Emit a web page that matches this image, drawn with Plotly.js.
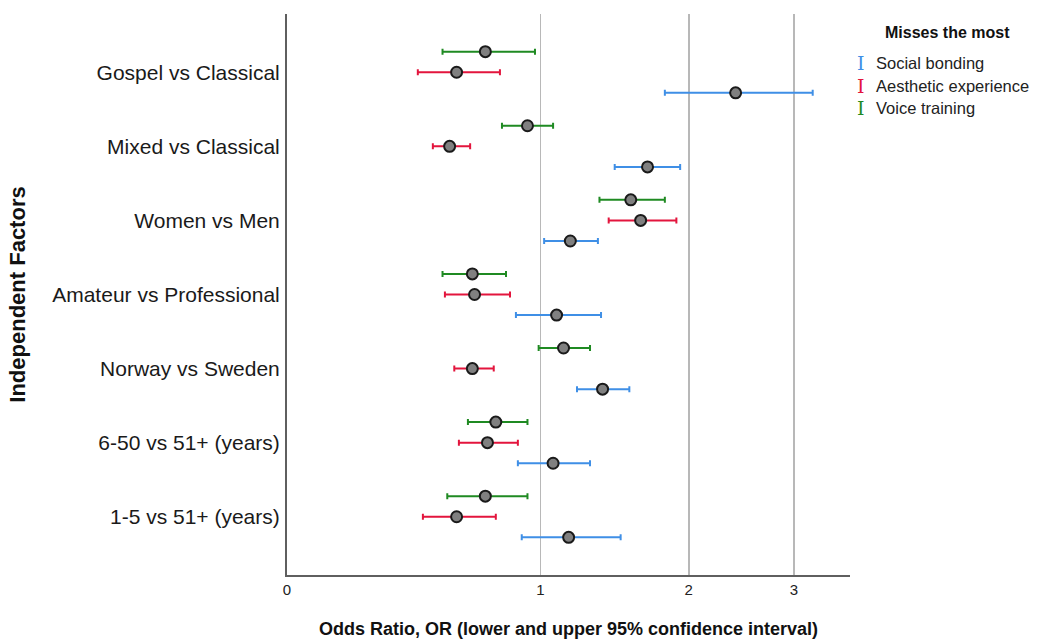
<!DOCTYPE html>
<html>
<head>
<meta charset="utf-8">
<script src="https://cdn.plot.ly/plotly-3.0.1.min.js"></script>
<style>html,body{margin:0;padding:0;background:#fff;}#chart{width:1041px;height:639px;}</style>
</head>
<body>
<div id="chart"></div>
<script>
// Categories listed top to bottom
const categories = ['Gospel vs Classical','Mixed vs Classical','Women vs Men','Amateur vs Professional','Norway vs Sweden','6-50 vs 51+ (years)','1-5 vs 51+ (years)'];

const socialOR  = [2.41, 1.68, 1.17, 1.09, 1.37, 1.07, 1.16];
const socialLo  = [1.81, 1.45, 1.02, 0.87, 1.21, 0.88, 0.90];
const socialHi  = [3.21, 1.93, 1.34, 1.36, 1.55, 1.29, 1.49];

const aestheticOR = [0.59, 0.56, 1.63, 0.67, 0.66, 0.73, 0.59];
const aestheticLo = [0.43, 0.49, 1.41, 0.54, 0.58, 0.60, 0.45];
const aestheticHi = [0.79, 0.65, 1.90, 0.84, 0.76, 0.88, 0.77];

const voiceOR = [0.72, 0.93, 1.56, 0.66, 1.13, 0.77, 0.72];
const voiceLo = [0.53, 0.80, 1.35, 0.53, 0.99, 0.64, 0.55];
const voiceHi = [0.97, 1.07, 1.81, 0.82, 1.29, 0.93, 0.93];

const xTickValues = [0, 1, 2, 3];
const xTickLabels = ['0', '1', '2', '3'];

const seriesNames = ['Social bonding', 'Aesthetic experience', 'Voice training'];
const seriesColors = ['#3f8fe6', '#e3153d', '#1f8a22'];

// layout helpers
const groupStep = 3.6;
const rowOffset = [-1, 0, 1]; // social below, aesthetic centre, voice above
const groupCentre = categories.map((c, i) => (categories.length - 1 - i) * groupStep);

function makeTrace(or, lo, hi, k) {
  return {
    type: 'scatter',
    mode: 'markers',
    name: seriesNames[k],
    x: or.map(v => v + 1),
    y: groupCentre.map(g => g + rowOffset[k]),
    error_x: {
      type: 'data', symmetric: false,
      array: hi.map((h, i) => h - or[i]),
      arrayminus: lo.map((l, i) => or[i] - l),
      color: seriesColors[k], thickness: 2, width: 3
    },
    marker: {color: '#808080', size: 11, line: {color: '#1a1a1a', width: 2}},
    showlegend: false,
    hoverinfo: 'skip'
  };
}

const traces = [
  makeTrace(socialOR, socialLo, socialHi, 0),
  makeTrace(aestheticOR, aestheticLo, aestheticHi, 1),
  makeTrace(voiceOR, voiceLo, voiceHi, 2)
];

const L = 287, R = 850, T = 14, B = 575;
const px = p => (p - L) / (R - L);
const py = p => (B - p) / (B - T);

const annotations = [
  {xref: 'paper', yref: 'paper', x: px(947), y: py(32), text: '<b>Misses the most</b>', showarrow: false,
   xanchor: 'center', yanchor: 'middle', font: {family: 'Liberation Sans, Arial, sans-serif', size: 16, color: '#111'}}
];
const legendY = [63, 86, 108];
seriesNames.forEach((n, k) => {
  annotations.push({xref: 'paper', yref: 'paper', x: px(861), y: py(legendY[k]), text: 'I', showarrow: false,
    xanchor: 'center', yanchor: 'middle', font: {family: 'DejaVu Serif, Liberation Serif, serif', size: 19, color: seriesColors[k]}});
  annotations.push({xref: 'paper', yref: 'paper', x: px(874), y: py(legendY[k]), text: n, showarrow: false,
    xanchor: 'left', yanchor: 'middle', font: {family: 'Liberation Sans, Arial, sans-serif', size: 16.5, color: '#222'}});
});

const layout = {
  width: 1041, height: 639,
  margin: {l: L, r: 1041 - R, t: T, b: 639 - B, pad: 0},
  paper_bgcolor: '#ffffff', plot_bgcolor: '#ffffff',
  showlegend: false,
  xaxis: {
    type: 'log',
    range: [0, Math.log10(4.662)],
    tickvals: xTickValues.map(v => v + 1),
    ticktext: xTickLabels,
    ticks: '',
    showgrid: true, gridcolor: '#b8b8b8', gridwidth: 1.6,
    zeroline: false,
    showline: true, linecolor: '#5f5f5f', linewidth: 2,
    tickfont: {family: 'Liberation Sans, Arial, sans-serif', size: 15, color: '#222'},
    title: {text: '<b>Odds Ratio, OR (lower and upper 95% confidence interval)</b>', standoff: 26,
      font: {family: 'Liberation Sans, Arial, sans-serif', size: 18, color: '#111'}},
    fixedrange: true
  },
  yaxis: {
    range: [-2.83, 24.43],
    tickvals: groupCentre,
    ticktext: categories,
    ticks: '',
    ticklabelstandoff: 1,
    showgrid: false, zeroline: false,
    showline: true, linecolor: '#5f5f5f', linewidth: 2,
    tickfont: {family: 'Liberation Sans, Arial, sans-serif', size: 21, color: '#1a1a1a'},
    title: {text: '<b>Independent Factors</b>', standoff: 20,
      font: {family: 'Liberation Sans, Arial, sans-serif', size: 22, color: '#111'}},
    fixedrange: true
  },
  annotations: annotations
};

Plotly.newPlot('chart', traces, layout, {displayModeBar: false, staticPlot: true});
</script>
</body>
</html>
